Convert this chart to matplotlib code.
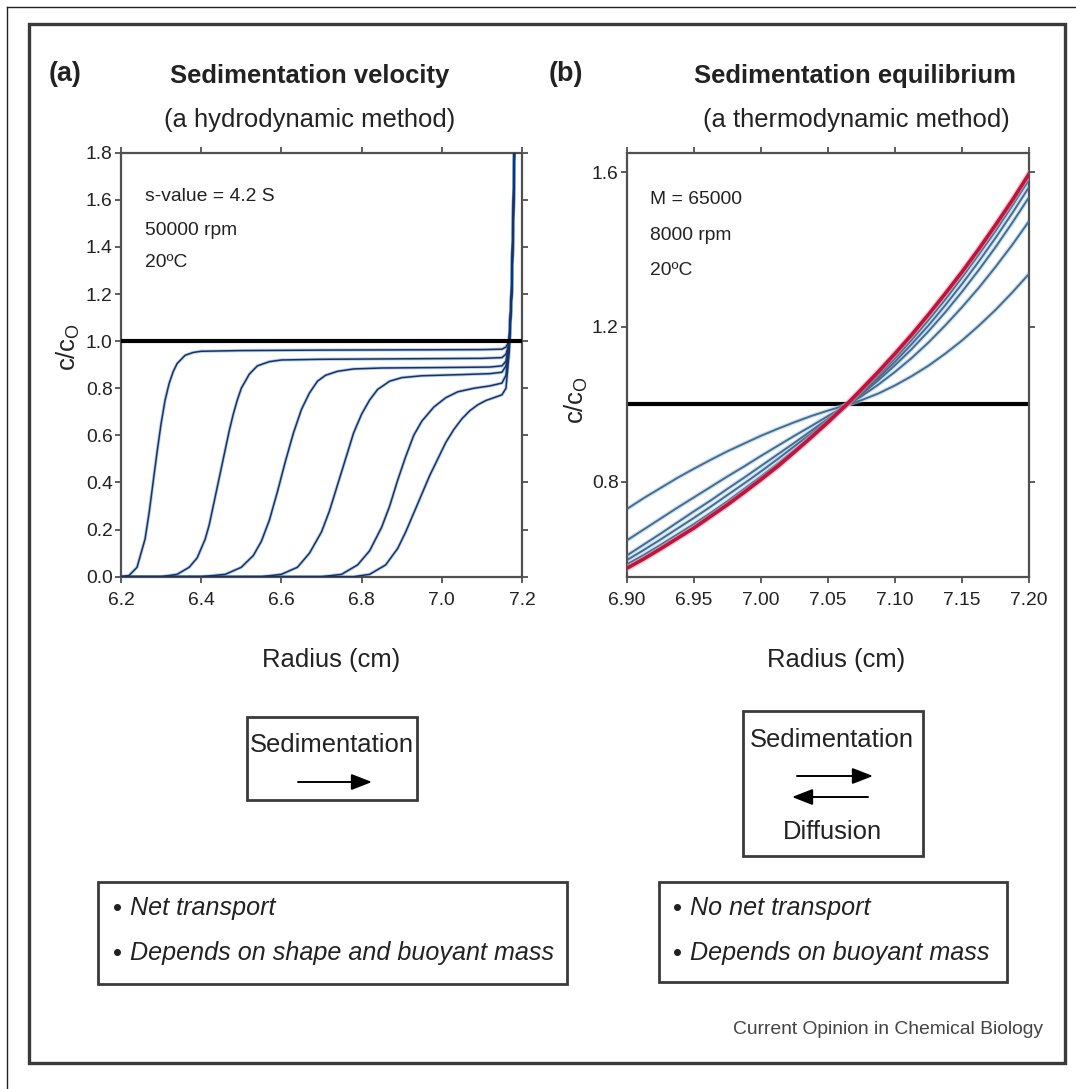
import matplotlib
matplotlib.use("Agg")
import matplotlib.pyplot as plt
from matplotlib import font_manager
from matplotlib.patches import Rectangle, FancyArrowPatch
from matplotlib.lines import Line2D

# ---------------- data ----------------
# (a) sedimentation velocity boundaries: radius (cm) vs c/c0
vel_x1 = [6.20, 6.22, 6.24, 6.26, 6.27, 6.28, 6.29, 6.30, 6.31, 6.32, 6.33, 6.34, 6.36, 6.38, 6.40,
          6.50, 6.70, 6.90, 7.10, 7.15, 7.16, 7.168, 7.174, 7.178, 7.182]
vel_y1 = [0.0, 0.005, 0.04, 0.16, 0.27, 0.40, 0.53, 0.65, 0.75, 0.82, 0.87, 0.905, 0.94, 0.952, 0.957,
          0.960, 0.962, 0.963, 0.964, 0.966, 0.975, 1.0, 1.2, 1.5, 1.9]

vel_x2 = [6.20, 6.30, 6.34, 6.37, 6.39, 6.41, 6.42, 6.43, 6.44, 6.45, 6.46, 6.47, 6.48, 6.49, 6.50,
          6.52, 6.54, 6.57, 6.60, 6.70, 6.90, 7.10, 7.15, 7.16, 7.168, 7.174, 7.178, 7.182]
vel_y2 = [0.0, 0.0, 0.01, 0.04, 0.08, 0.16, 0.22, 0.30, 0.38, 0.46, 0.54, 0.62, 0.69, 0.75, 0.80,
          0.86, 0.895, 0.913, 0.92, 0.923, 0.925, 0.927, 0.93, 0.945, 0.99, 1.2, 1.5, 1.9]

vel_x3 = [6.20, 6.40, 6.46, 6.50, 6.53, 6.55, 6.57, 6.59, 6.61, 6.63, 6.65, 6.67, 6.69, 6.71, 6.74,
          6.78, 6.85, 7.00, 7.12, 7.15, 7.16, 7.168, 7.174, 7.178, 7.182]
vel_y3 = [0.0, 0.0, 0.01, 0.04, 0.09, 0.15, 0.24, 0.36, 0.49, 0.61, 0.71, 0.78, 0.83, 0.855, 0.872,
          0.882, 0.886, 0.888, 0.89, 0.895, 0.915, 0.99, 1.2, 1.5, 1.9]

vel_x4 = [6.20, 6.55, 6.60, 6.64, 6.67, 6.70, 6.72, 6.74, 6.76, 6.78, 6.80, 6.82, 6.84, 6.87, 6.90,
          6.95, 7.05, 7.12, 7.15, 7.16, 7.168, 7.174, 7.178, 7.182]
vel_y4 = [0.0, 0.0, 0.01, 0.04, 0.10, 0.19, 0.28, 0.39, 0.50, 0.61, 0.69, 0.75, 0.795, 0.83, 0.845,
          0.853, 0.858, 0.862, 0.868, 0.895, 0.99, 1.2, 1.5, 1.9]

vel_x5 = [6.20, 6.70, 6.75, 6.79, 6.82, 6.85, 6.87, 6.89, 6.91, 6.93, 6.95, 6.98, 7.01, 7.04, 7.08,
          7.12, 7.15, 7.16, 7.168, 7.174, 7.178, 7.182]
vel_y5 = [0.0, 0.0, 0.01, 0.05, 0.11, 0.21, 0.30, 0.41, 0.51, 0.60, 0.66, 0.72, 0.76, 0.785, 0.80,
          0.81, 0.822, 0.855, 0.98, 1.2, 1.5, 1.9]

vel_x6 = [6.20, 6.78, 6.82, 6.86, 6.89, 6.91, 6.93, 6.95, 6.97, 6.99, 7.01, 7.03, 7.05, 7.07, 7.09,
          7.11, 7.13, 7.15, 7.16, 7.168, 7.174, 7.178, 7.182]
vel_y6 = [0.0, 0.0, 0.01, 0.05, 0.12, 0.19, 0.27, 0.35, 0.43, 0.50, 0.57, 0.625, 0.67, 0.705, 0.73,
          0.748, 0.76, 0.772, 0.80, 0.95, 1.2, 1.5, 1.9]

vel_curves = [(vel_x1, vel_y1), (vel_x2, vel_y2), (vel_x3, vel_y3),
              (vel_x4, vel_y4), (vel_x5, vel_y5), (vel_x6, vel_y6)]

# (b) approach to sedimentation equilibrium on a common radius grid
eq_r = [6.9, 6.9125, 6.925, 6.9375, 6.95, 6.9625, 6.975, 6.9875, 7.0, 7.0125, 7.025, 7.0375, 7.05,
        7.0625, 7.075, 7.0875, 7.1, 7.1125, 7.125, 7.1375, 7.15, 7.1625, 7.175, 7.1875, 7.2]
eq_a = [0.730, 0.758, 0.784, 0.810, 0.834, 0.857, 0.879, 0.899, 0.919, 0.937, 0.954, 0.970, 0.984,
        0.997, 1.011, 1.028, 1.049, 1.073, 1.100, 1.131, 1.165, 1.203, 1.244, 1.289, 1.337]
eq_b = [0.649, 0.677, 0.705, 0.733, 0.760, 0.787, 0.814, 0.840, 0.867, 0.893, 0.919, 0.944, 0.970,
        0.995, 1.021, 1.051, 1.084, 1.120, 1.160, 1.204, 1.251, 1.301, 1.355, 1.412, 1.473]
eq_c = [0.610, 0.638, 0.666, 0.695, 0.724, 0.752, 0.782, 0.811, 0.841, 0.871, 0.901, 0.932, 0.963,
        0.994, 1.026, 1.062, 1.101, 1.143, 1.189, 1.238, 1.291, 1.347, 1.406, 1.469, 1.535]
eq_d = [0.598, 0.624, 0.651, 0.679, 0.707, 0.736, 0.766, 0.796, 0.827, 0.859, 0.892, 0.925, 0.959,
        0.993, 1.029, 1.068, 1.110, 1.156, 1.204, 1.256, 1.311, 1.369, 1.430, 1.494, 1.561]
eq_e = [0.587, 0.611, 0.637, 0.664, 0.691, 0.720, 0.750, 0.782, 0.814, 0.847, 0.882, 0.917, 0.954,
        0.992, 1.032, 1.074, 1.119, 1.167, 1.218, 1.271, 1.328, 1.387, 1.448, 1.513, 1.580]
eq_final = [0.577, 0.601, 0.627, 0.654, 0.681, 0.711, 0.741, 0.773, 0.806, 0.840, 0.877, 0.915, 0.954,
            0.995, 1.039, 1.084, 1.131, 1.180, 1.232, 1.286, 1.342, 1.401, 1.463, 1.527, 1.595]
eq_transient = [eq_a, eq_b, eq_c, eq_d, eq_e]

vel_xticks = [6.2, 6.4, 6.6, 6.8, 7.0, 7.2]
vel_xticklabels = ["6.2", "6.4", "6.6", "6.8", "7.0", "7.2"]
vel_yticks = [0.0, 0.2, 0.4, 0.6, 0.8, 1.0, 1.2, 1.4, 1.6, 1.8]
vel_yticklabels = ["0.0", "0.2", "0.4", "0.6", "0.8", "1.0", "1.2", "1.4", "1.6", "1.8"]
eq_xticks = [6.90, 6.95, 7.00, 7.05, 7.10, 7.15, 7.20]
eq_xticklabels = ["6.90", "6.95", "7.00", "7.05", "7.10", "7.15", "7.20"]
eq_yticks = [0.8, 1.2, 1.6]
eq_yticklabels = ["0.8", "1.2", "1.6"]

vel_notes = ["s-value = 4.2 S", "50000 rpm", "20ºC"]
eq_notes = ["M = 65000", "8000 rpm", "20ºC"]

# ---------------- fonts ----------------
names = {f.name for f in font_manager.fontManager.ttflist}
if "Liberation Sans Narrow" in names:
    FAM = ["Liberation Sans Narrow", "DejaVu Sans"]
    K = 1.0
else:
    FAM = ["Liberation Sans", "DejaVu Sans"]
    K = 0.84
plt.rcParams["font.family"] = FAM
plt.rcParams["mathtext.default"] = "regular"

BIG = 22 * K
MID = 16.5 * K
TXT = "#222222"
SPINE = "#505050"

W, H = 1076, 1089
fig = plt.figure(figsize=(W / 100, H / 100), dpi=100)
fig.patch.set_facecolor("white")


def fx(x):
    return x / W


def fy(y):
    return 1 - y / H


def add_axes_px(x0, x1, y0, y1):
    return fig.add_axes([fx(x0), fy(y1), (x1 - x0) / W, (y1 - y0) / H])


def style_axes(ax):
    for s in ax.spines.values():
        s.set_color(SPINE)
        s.set_linewidth(1.6)
    ax.tick_params(axis="both", which="major", direction="out", length=4, width=1.3,
                   color=SPINE, labelsize=MID, labelcolor=TXT, top=True, right=True)
    ax.tick_params(axis="x", pad=7)
    ax.tick_params(axis="y", pad=2)


ax1 = add_axes_px(121, 522, 152.7, 576.7)
ax2 = add_axes_px(627, 1029, 152.7, 576.7)

# ---- panel (a)
for xs, ys in vel_curves:
    ax1.plot(xs, ys, color="#5a9ae0", lw=2.4, alpha=0.45, solid_capstyle="round", zorder=2)
    ax1.plot(xs, ys, color="#1d3060", lw=1.1, zorder=3)
ax1.axhline(1.0, color="black", lw=3.0, zorder=4)
ax1.set_xlim(6.2, 7.2)
ax1.set_ylim(0.0, 1.8)
ax1.set_xticks(vel_xticks)
ax1.set_xticklabels(vel_xticklabels)
ax1.set_yticks(vel_yticks)
ax1.set_yticklabels(vel_yticklabels)
style_axes(ax1)
for i, t in enumerate(vel_notes):
    ax1.text(0.059, [0.896, 0.816, 0.740][i], t, transform=ax1.transAxes,
             fontsize=MID, color=TXT, ha="left", va="center")

# ---- panel (b)
for ys in eq_transient:
    ax2.plot(eq_r, ys, color="#a8d4f0", lw=3.2, alpha=0.6, zorder=2)
    ax2.plot(eq_r, ys, color="#4c6b8c", lw=1.4, zorder=3)
ax2.plot(eq_r, eq_final, color="#f08aa0", lw=4.4, alpha=0.5, zorder=4)
ax2.plot(eq_r, eq_final, color="#c0143c", lw=2.6, zorder=5)
ax2.axhline(1.0, color="black", lw=3.0, zorder=1)
ax2.set_xlim(6.90, 7.20)
ax2.set_ylim(0.555, 1.65)
ax2.set_xticks(eq_xticks)
ax2.set_xticklabels(eq_xticklabels)
ax2.set_yticks(eq_yticks)
ax2.set_yticklabels(eq_yticklabels)
style_axes(ax2)
for i, t in enumerate(eq_notes):
    ax2.text(0.0565, [0.889, 0.804, 0.723][i], t, transform=ax2.transAxes,
             fontsize=MID, color=TXT, ha="left", va="center")

# axis labels
for ax, xl, yl in [(ax1, (0.524, -0.196), (-0.132, 0.542)),
                   (ax2, (0.52, -0.196), (-0.127, 0.417))]:
    ax.set_xlabel("Radius (cm)", fontsize=BIG, color=TXT)
    ax.xaxis.set_label_coords(*xl)
    ax.xaxis.label.set_va("center")
    ax.set_ylabel("c/c$_\\mathregular{O}$", fontsize=BIG, color=TXT)
    ax.yaxis.set_label_coords(*yl)
    ax.yaxis.label.set_va("center")

# ---------------- headings ----------------
fig.text(fx(65), fy(74), "(a)", fontsize=BIG * 1.05, fontweight="bold", color=TXT, ha="center", va="center")
fig.text(fx(566), fy(74), "(b)", fontsize=BIG * 1.05, fontweight="bold", color=TXT, ha="center", va="center")
fig.text(fx(310), fy(76), "Sedimentation velocity", fontsize=BIG, fontweight="bold", color=TXT,
         ha="center", va="center")
fig.text(fx(310), fy(120), "(a hydrodynamic method)", fontsize=BIG, color=TXT, ha="center", va="center")
fig.text(fx(855), fy(76), "Sedimentation equilibrium", fontsize=BIG, fontweight="bold", color=TXT,
         ha="center", va="center")
fig.text(fx(856), fy(120), "(a thermodynamic method)", fontsize=BIG, color=TXT, ha="center", va="center")


# ---------------- boxes ----------------
def box(x0, x1, y0, y1, lw=2.0):
    fig.add_artist(Rectangle((fx(x0), fy(y1)), (x1 - x0) / W, (y1 - y0) / H,
                             transform=fig.transFigure, fill=False, lw=lw, ec="#3a3a3a"))


def arrow(x0, x1, y):
    fig.add_artist(FancyArrowPatch((fx(x0), fy(y)), (fx(x1), fy(y)), transform=fig.transFigure,
                                   arrowstyle="-|>,head_length=0.9,head_width=0.35",
                                   mutation_scale=14, lw=1.4, color="black",
                                   shrinkA=0, shrinkB=0))


# process boxes
box(247, 417, 717, 800)
fig.text(fx(332), fy(745), "Sedimentation", fontsize=BIG, color=TXT, ha="center", va="center")
arrow(298, 372, 782)

box(743, 923, 711, 856)
fig.text(fx(832), fy(740), "Sedimentation", fontsize=BIG, color=TXT, ha="center", va="center")
arrow(797, 873, 776)
arrow(868, 792, 797)
fig.text(fx(832), fy(832), "Diffusion", fontsize=BIG, color=TXT, ha="center", va="center")

# property boxes
box(98, 567, 882, 984)
box(659, 1007, 882, 982)
for bx, tx, lines in [(117, 130, ["Net transport", "Depends on shape and buoyant mass"]),
                      (678, 690, ["No net transport", "Depends on buoyant mass"])]:
    for yy, t in zip([908, 953], lines):
        fig.text(fx(bx), fy(yy + 1), "•", fontsize=BIG, color=TXT, ha="center", va="center")
        fig.text(fx(tx), fy(yy), t, fontsize=BIG * 0.98, style="italic", color=TXT,
                 ha="left", va="center")

fig.text(fx(1043), fy(1030), "Current Opinion in Chemical Biology", fontsize=MID, color="#444444",
         ha="right", va="center")

# ---------------- frame ----------------
box(29, 1065, 24, 1063, lw=2.4)
fig.add_artist(Line2D([fx(7), fx(7)], [fy(7), 0], transform=fig.transFigure, color="#222222", lw=1.0))
fig.add_artist(Line2D([fx(7), 1], [fy(7), fy(7)], transform=fig.transFigure, color="#222222", lw=1.0))

fig.savefig("out.png", dpi=100, facecolor="white")
